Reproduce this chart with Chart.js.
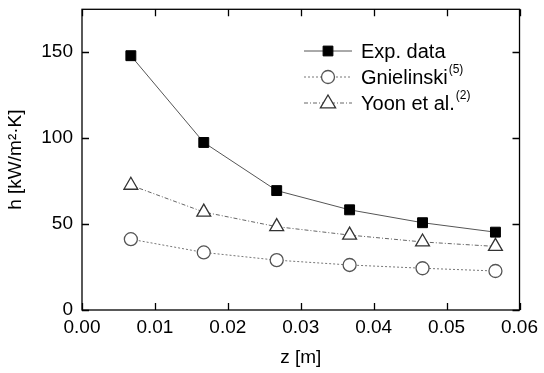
<!DOCTYPE html>
<html>
<head>
<meta charset="utf-8">
<script src="https://cdn.jsdelivr.net/npm/chart.js@4.4.0/dist/chart.umd.min.js"></script>
<style>
  html,body{margin:0;padding:0;background:#fff}
  #wrap{width:544px;height:373px;position:relative}
</style>
</head>
<body>
<div id="wrap"><canvas id="c" width="544" height="373"></canvas></div>
<script>
// datos
const zPos = [0.0067, 0.0167, 0.0267, 0.0367, 0.0467, 0.0567];
const hExp = [148, 97.5, 69.5, 58.3, 50.8, 45.3];
const hGniel = [41.2, 33.5, 29, 26.2, 24.3, 22.7];
const hYoon = [72.6, 57, 48.5, 43.6, 39.6, 37];
const xTicks = [0, 0.01, 0.02, 0.03, 0.04, 0.05, 0.06];
const yTicks = [0, 50, 100, 150];
const seriesLabels = [['Exp. data',''], ['Gnielinski','(5)'], ['Yoon et al.','(2)']];

const FONT = 'Liberation Sans, Arial, sans-serif';

function pts(ys){ return zPos.map((x,i)=>({x:x, y:ys[i]})); }

// marco y ticks hacia adentro (en los 4 lados)
const framePlugin = {
  id:'frame',
  afterDatasetsDraw(chart){
    const {ctx, chartArea:a, scales} = chart;
    ctx.save();
    ctx.strokeStyle = '#000';
    ctx.lineWidth = 1.3;
    ctx.strokeRect(a.left, a.top, a.right-a.left, a.bottom-a.top);
    ctx.beginPath();
    xTicks.forEach(v=>{
      const px = Math.round(scales.x.getPixelForValue(v))+0.5;
      ctx.moveTo(px, a.bottom); ctx.lineTo(px, a.bottom-7);
      ctx.moveTo(px, a.top); ctx.lineTo(px, a.top+7);
    });
    yTicks.forEach(v=>{
      const py = Math.round(scales.y.getPixelForValue(v))+0.5;
      ctx.moveTo(a.left, py); ctx.lineTo(a.left+7, py);
      ctx.moveTo(a.right, py); ctx.lineTo(a.right-7, py);
    });
    ctx.stroke();

    // leyenda dentro del grafico
    const lx = 304, ly = 51, gap = 26;
    chart.data.datasets.forEach((ds,i)=>{
      const y = ly + i*gap;
      ctx.save();
      ctx.strokeStyle = ds.borderColor;
      ctx.lineWidth = ds.borderWidth;
      ctx.setLineDash(ds.borderDash || []);
      ctx.beginPath(); ctx.moveTo(lx, y); ctx.lineTo(lx+48, y); ctx.stroke();
      ctx.setLineDash([]);
      const cx = lx+24, r = ds.pointRadius;
      ctx.fillStyle = ds.pointBackgroundColor;
      ctx.strokeStyle = ds.pointBorderColor;
      ctx.lineWidth = ds.pointBorderWidth;
      ctx.beginPath();
      if(ds.pointStyle==='rect'){ ctx.rect(cx-r*0.7, y-r*0.7, r*1.4, r*1.4); }
      else if(ds.pointStyle==='circle'){ ctx.arc(cx, y, r, 0, Math.PI*2); }
      else { ctx.moveTo(cx, y-r); ctx.lineTo(cx+r*0.95, y+r*0.6); ctx.lineTo(cx-r*0.95, y+r*0.6); ctx.closePath(); }
      ctx.fill(); ctx.stroke();
      ctx.restore();
      const [main, sup] = seriesLabels[i];
      ctx.fillStyle = '#000';
      ctx.textBaseline = 'middle';
      ctx.textAlign = 'left';
      ctx.font = '20px ' + FONT;
      ctx.fillText(main, lx+57, y+1);
      if(sup){
        const w = ctx.measureText(main).width;
        ctx.font = '12px ' + FONT;
        ctx.fillText(sup, lx+58+w, y-7);
      }
    });
    ctx.restore();
  }
};

new Chart(document.getElementById('c'), {
  type:'line',
  data:{
    datasets:[
      {label:seriesLabels[0][0], data:pts(hExp), borderColor:'#555', borderWidth:1, pointStyle:'rect',
        pointRadius:7, pointBackgroundColor:'#000', pointBorderColor:'#000', pointBorderWidth:1},
      {label:seriesLabels[1][0], data:pts(hGniel), borderColor:'#777', borderWidth:1, borderDash:[2,2], pointStyle:'circle',
        pointRadius:6.5, pointBackgroundColor:'#fff', pointBorderColor:'#555', pointBorderWidth:1.3},
      {label:seriesLabels[2][0], data:pts(hYoon), borderColor:'#666', borderWidth:1, borderDash:[4,2,1,2], pointStyle:'triangle',
        pointRadius:8, pointBackgroundColor:'#fff', pointBorderColor:'#333', pointBorderWidth:1.3}
    ]
  },
  options:{
    responsive:false, animation:false,
    layout:{padding:{top:6, right:22, left:0, bottom:0}},
    plugins:{legend:{display:false}, tooltip:{enabled:false}},
    scales:{
      x:{type:'linear', min:0, max:0.06,
        afterBuildTicks:s=>{ s.ticks = xTicks.map(v=>({value:v})); },
        afterFit:s=>{ s.height = 63; },
        grid:{display:false, drawTicks:false}, border:{display:false},
        ticks:{color:'#000', font:{family:FONT, size:19}, padding:6, maxRotation:0,
          callback:v=>v.toFixed(2)},
        title:{display:true, text:'z [m]', color:'#000', font:{family:FONT, size:19}, padding:{top:4}}
      },
      y:{type:'linear', min:0, max:175,
        afterBuildTicks:s=>{ s.ticks = yTicks.map(v=>({value:v})); },
        afterFit:s=>{ s.width = 82; s.paddingTop = 0; s.paddingBottom = 0; },
        grid:{display:false, drawTicks:false}, border:{display:false},
        ticks:{color:'#000', font:{family:FONT, size:19}, padding:9},
        title:{display:true, text:'h [kW/m²·K]', color:'#000', font:{family:FONT, size:19}, padding:{bottom:6}}
      }
    }
  },
  plugins:[framePlugin]
});
</script>
</body>
</html>
